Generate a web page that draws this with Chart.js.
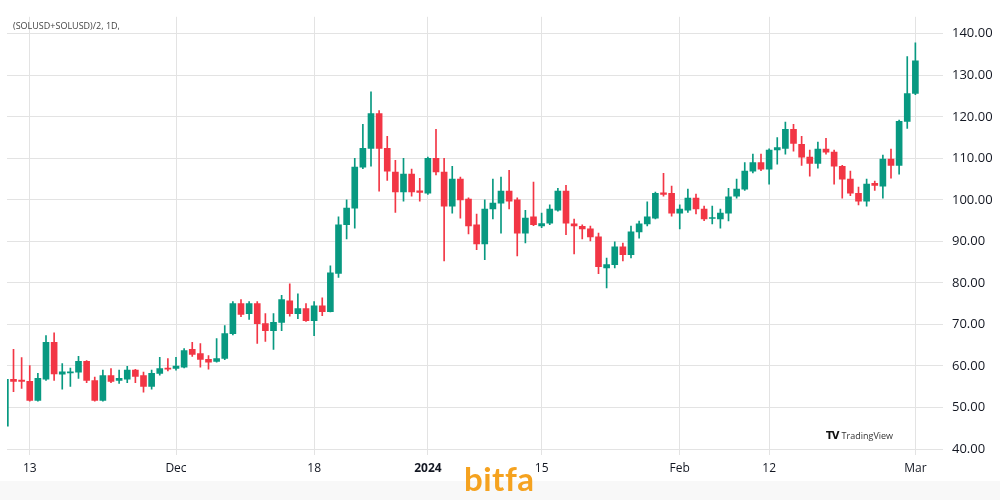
<!DOCTYPE html>
<html>
<head>
<meta charset="utf-8">
<script src="https://cdn.jsdelivr.net/npm/chart.js@4/dist/chart.umd.min.js"></script>
<style>
    html, body { margin: 0; padding: 0; background: #fff; }
    #wrap { position: relative; width: 1000px; height: 500px; overflow: hidden; }
    #footer { position: absolute; left: 0; top: 481px; width: 1000px; height: 19px; background: #f8f8f8; }
    #title { position: absolute; left: 13px; top: 19px; font: 9px "Open Sans", sans-serif; color: #444; }
    #tv { position: absolute; left: 826px; top: 429px; font: 9px "Open Sans", sans-serif; color: #333; }
    #tv b { font: 900 10px "DejaVu Sans", sans-serif; letter-spacing: -1px; margin-right: 3px; color: #111; }
    #bitfa { position: absolute; left: 464px; top: 462px; font: bold 33px/33px "Lato", sans-serif; color: #f5a21f; letter-spacing: 0.5px; }
    canvas { position: absolute; left: 0; top: 0; }
</style>
</head>
<body>
<div id="wrap">
    <div id="footer"></div>
    <canvas id="chart" width="1000" height="500"></canvas>
    <div id="title">(SOLUSD+SOLUSD)/2, 1D,</div>
    <div id="tv"><b>TV</b>TradingView</div>
    <div id="bitfa">bitfa</div>
</div>
<script>
// Daily candles, day 0 = 10 Nov 2023 ... day 112 = 1 Mar 2024
const opens = [
    45.5, 56.8, 56.6, 56.3, 51.7, 56.8, 65.7, 58.0, 58.3, 58.5,
    61.1, 56.5, 51.7, 57.7, 56.5, 56.8, 59.0, 57.7, 55.1, 58.2,
    59.5, 59.4, 59.7, 64.0, 63.0, 61.6, 61.1, 61.8, 67.8, 75.0,
    72.6, 75.0, 70.2, 68.5, 70.5, 75.7, 72.6, 73.8, 70.9, 74.5,
    73.1, 82.3, 94.0, 98.0, 107.9, 112.4, 120.8, 112.4, 106.7, 101.9,
    106.2, 102.2, 101.6, 110.0, 106.7, 98.5, 105.0, 100.2, 94.0, 89.4,
    97.8, 99.2, 102.1, 100.0, 92.0, 95.9, 93.7, 94.4, 97.5, 102.1,
    94.2, 93.6, 93.0, 91.1, 83.6, 84.4, 88.7, 86.8, 92.3, 94.2,
    95.6, 101.7, 101.6, 96.8, 97.5, 100.4, 97.8, 95.5, 95.4, 96.8,
    100.9, 102.6, 106.9, 109.0, 107.4, 112.0, 112.4, 117.0, 113.4, 110.3,
    108.8, 112.2, 111.5, 108.1, 105.0, 101.6, 99.7, 104.0, 103.3, 109.8,
    108.3, 118.9, 125.6
];
const highs = [
    57.0, 64.0, 62.0, 60.1, 58.2, 67.3, 68.0, 60.6, 59.5, 62.3,
    61.3, 57.3, 59.0, 59.4, 59.0, 59.9, 59.2, 58.5, 59.0, 62.1,
    61.8, 62.1, 64.2, 65.7, 65.4, 62.5, 66.6, 69.7, 75.5, 76.0,
    75.5, 75.5, 72.6, 72.6, 77.0, 79.8, 77.4, 75.0, 75.5, 76.4,
    84.1, 95.9, 100.0, 110.0, 118.2, 126.0, 121.5, 115.3, 109.5, 110.0,
    107.4, 105.2, 110.3, 117.0, 110.0, 108.1, 105.5, 100.5, 96.6, 100.0,
    105.0, 105.5, 107.1, 100.5, 97.5, 104.3, 96.8, 98.8, 102.8, 103.5,
    95.4, 94.0, 93.7, 92.0, 86.0, 89.9, 89.6, 93.7, 94.9, 99.5,
    101.9, 106.4, 103.3, 98.8, 102.6, 101.4, 98.5, 98.5, 97.8, 102.8,
    105.0, 109.0, 111.0, 111.0, 112.3, 115.0, 118.7, 118.2, 115.3, 112.0,
    113.9, 114.8, 112.0, 108.3, 106.9, 103.1, 105.0, 104.5, 110.8, 112.2,
    119.2, 134.5, 137.8
];
const lows = [
    45.0, 53.8, 54.6, 51.5, 51.5, 56.5, 56.5, 54.4, 55.1, 57.0,
    56.0, 51.5, 51.5, 56.0, 55.8, 56.0, 56.0, 53.7, 54.4, 57.8,
    58.8, 59.0, 59.5, 62.3, 59.7, 59.2, 60.9, 61.5, 67.5, 71.9,
    71.2, 65.4, 65.9, 64.0, 68.5, 72.0, 71.4, 70.7, 67.3, 72.1,
    73.0, 81.3, 90.6, 93.2, 107.5, 108.1, 102.1, 104.7, 97.0, 99.7,
    100.9, 99.7, 101.3, 106.0, 85.3, 96.8, 95.6, 91.8, 88.0, 85.6,
    95.4, 92.0, 97.8, 86.5, 89.6, 93.8, 93.3, 94.0, 97.3, 91.6,
    87.0, 90.6, 90.1, 82.2, 78.8, 83.6, 85.3, 86.0, 90.8, 93.7,
    95.4, 100.9, 96.1, 93.0, 97.0, 96.6, 95.0, 94.2, 93.2, 94.9,
    100.4, 102.3, 106.5, 107.0, 103.8, 108.6, 111.0, 111.7, 108.3, 105.7,
    107.6, 111.0, 103.8, 100.4, 101.0, 98.8, 98.5, 102.3, 100.4, 105.2,
    106.2, 117.2, 125.3
];
const closes = [
    56.8, 56.3, 56.3, 51.7, 57.0, 65.7, 58.1, 58.6, 58.6, 61.1,
    56.5, 51.7, 57.7, 56.3, 57.0, 59.0, 57.5, 55.1, 58.2, 59.4,
    59.2, 60.0, 63.7, 62.8, 61.6, 60.9, 61.8, 67.8, 75.0, 72.4,
    75.0, 70.2, 68.5, 70.5, 76.0, 72.6, 73.8, 70.9, 74.5, 73.1,
    82.4, 94.0, 98.0, 107.9, 112.4, 120.8, 112.4, 106.9, 101.9, 106.2,
    101.9, 101.8, 110.0, 106.7, 98.5, 105.0, 100.0, 93.7, 89.4, 97.8,
    99.2, 102.1, 99.7, 92.0, 95.6, 94.0, 94.3, 97.8, 102.1, 94.4,
    93.7, 93.0, 91.1, 83.9, 84.4, 88.7, 86.8, 92.3, 94.2, 95.9,
    101.6, 101.3, 96.8, 97.8, 100.4, 97.8, 95.4, 95.7, 96.8, 100.7,
    102.6, 106.9, 109.0, 107.4, 112.0, 112.6, 117.0, 113.6, 110.3, 108.8,
    112.2, 111.5, 108.1, 105.0, 101.6, 99.7, 103.8, 103.5, 109.8, 108.3,
    118.9, 125.6, 133.5
];

// Axis ticks
const tickDays = [3, 21, 38, 52, 66, 83, 94, 112];
const tickLabels = ['13', 'Dec', '18', '2024', '15', 'Feb', '12', 'Mar'];
const priceTicks = [40, 50, 60, 70, 80, 90, 100, 110, 120, 130, 140];

const UP = '#089981';
const DOWN = '#f23645';

document.addEventListener('DOMContentLoaded', () => {
    const ctx = document.getElementById('chart');

    const candleColor = (c) => {
        const i = c.dataIndex;
        return closes[i] >= opens[i] ? UP : DOWN;
    };

    const wicks = opens.map((o, i) => ({ x: i, y: [lows[i], highs[i]] }));
    const bodies = opens.map((o, i) => ({ x: i, y: [o, closes[i]] }));

    new Chart(ctx, {
        type: 'bar',
        data: {
            datasets: [
                {
                    label: 'wick',
                    data: wicks,
                    backgroundColor: candleColor,
                    barThickness: 1,
                    grouped: false,
                    clip: 0
                },
                {
                    label: 'body',
                    data: bodies,
                    backgroundColor: candleColor,
                    barThickness: 6,
                    minBarLength: 1,
                    grouped: false,
                    clip: 0
                }
            ]
        },
        options: {
            responsive: false,
            animation: false,
            layout: { padding: { left: 7, top: 15, right: 0, bottom: 20 } },
            plugins: {
                legend: { display: false },
                tooltip: { enabled: false }
            },
            scales: {
                x: {
                    type: 'linear',
                    min: 0.2,
                    max: 115.4,
                    offset: false,
                    border: { display: false },
                    grid: { color: '#e3e3e3', offset: false, drawTicks: false },
                    afterBuildTicks: (scale) => {
                        scale.ticks = tickDays.map(v => ({ value: v }));
                    },
                    afterFit: (scale) => { scale.height = 25; },
                    ticks: {
                        autoSkip: false,
                        maxRotation: 0,
                        padding: 6,
                        color: '#131722',
                        font: (c) => ({
                            family: 'Open Sans',
                            size: 12,
                            weight: c.tick && c.tick.value === 52 ? 'bold' : 'normal'
                        }),
                        callback: (value) => tickLabels[tickDays.indexOf(value)]
                    }
                },
                y: {
                    position: 'right',
                    min: 38.56,
                    max: 144.08,
                    border: { display: false },
                    grid: { color: '#e3e3e3', drawTicks: false },
                    afterBuildTicks: (scale) => {
                        scale.ticks = priceTicks.map(v => ({ value: v }));
                    },
                    afterFit: (scale) => { scale.width = 57; },
                    ticks: {
                        padding: 9,
                        color: '#131722',
                        font: { family: 'Open Sans', size: 13 },
                        callback: (value) => value.toFixed(2)
                    }
                }
            }
        }
    });
});
</script>
</body>
</html>
